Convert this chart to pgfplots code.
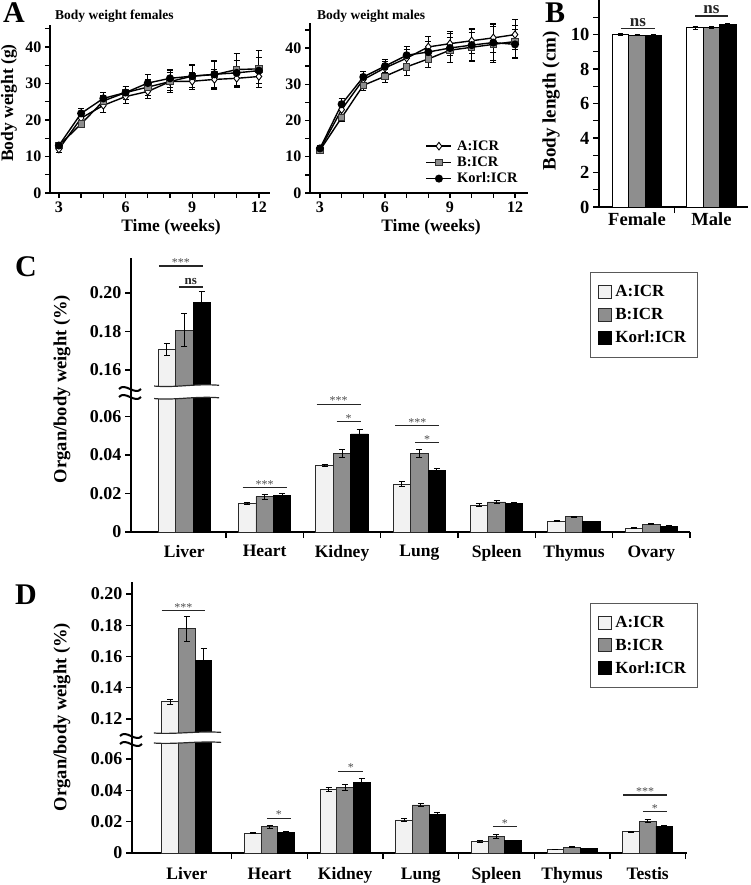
\documentclass[border=0pt]{standalone}
\usepackage{pgfplots}
\usepackage{pgfplotstable}
\pgfplotsset{compat=1.18}
\usepackage{fontspec}
\setmainfont{Liberation Serif}
\definecolor{barwhite}{HTML}{F2F2F2}
\definecolor{bargray}{HTML}{8E8E8E}
\definecolor{edge}{HTML}{2A2A2A}
\newcommand{\fsz}[1]{\fontsize{#1}{#1}\selectfont}
\newcommand{\brk}[2]{\thisrow{#1}>0.1?\thisrow{#1}-#2:\thisrow{#1}}

\pgfplotsset{
  panel/.style={scale only axis, clip=false,
    axis x line*=bottom, axis y line*=left,
    axis line style={-, line width=1.5pt, black},
    tick align=outside, major tick length=5pt, minor tick length=5pt,
    tick style={line width=1.3pt, black},
    /pgf/number format/assume math mode=true,
    scaled y ticks=false},
  errs/.style={error bars/y dir=both, error bars/y explicit,
    error bars/error bar style={line width=0.9pt, black},
    error bars/error mark options={rotate=90, mark size=#1, line width=0.9pt, black}},
  errs/.default=3pt,
  awhite/.style={black, line width=1.4pt, mark=diamond*, mark size=3.8pt,
    mark options={fill=white, draw=black, line width=0.9pt}},
  bgray/.style={black, line width=1.4pt, mark=square*, mark size=3.2pt,
    mark options={fill=bargray, draw=black!80, line width=0.8pt}},
  korl/.style={black, line width=1.4pt, mark=*, mark size=3.3pt,
    mark options={fill=black, draw=black}},
  lineleg/.style={legend image code/.code={\draw[##1, mark=none] (0pt,0pt) -- (25pt,0pt);
    \path[##1] plot coordinates {(12.5pt,0pt)};}},
  sqleg/.style={legend image code/.code={\draw[##1, line width=0.9pt] (0pt,-6.5pt) rectangle (13pt,6.5pt);}},
  wbar/.style={fill=barwhite, draw=edge, line width=0.9pt, sqleg},
  gbar/.style={fill=bargray, draw=edge, line width=0.9pt, sqleg},
  kbar/.style={fill=black, draw=black, line width=0.9pt, sqleg},
}

\newcommand{\sig}[4]{\draw[line width=1.3pt, black!85] (axis cs:#1,#3) -- (axis cs:#2,#3)
  node[midway, above, inner sep=0pt, yshift=-1pt, font=\fsz{12}, text=black!70] {#4};}
\newcommand{\signs}[4]{\draw[line width=1.3pt, black!85] (axis cs:#1,#3) -- (axis cs:#2,#3)
  node[midway, above, inner sep=1.5pt, font=\bfseries\fsz{#4}] {ns};}

% Body weight, females (weeks, mean, sd)
\pgfplotstableread{
w a ea b eb k ek
3 12.0 0.8 13.0 0.8 13.0 0.8
4 20.5 1.5 18.9 1.0 21.8 1.3
5 24.0 2.0 25.2 1.5 25.9 1.5
6 26.4 1.8 27.5 1.8 27.5 1.8
7 27.8 2.0 29.0 2.2 30.1 2.3
8 30.5 2.5 30.5 3.0 31.4 2.5
9 30.6 2.3 32.0 3.2 32.0 3.0
10 31.1 2.8 32.4 3.8 32.5 3.5
11 31.4 2.5 33.8 4.5 32.9 3.5
12 31.9 3.0 34.0 5.0 33.5 3.5
}\femT
% Body weight, males
\pgfplotstableread{
w a ea b eb k ek
3 12.0 0.8 11.8 0.8 12.3 0.8
4 23.0 1.5 20.8 1.0 24.5 1.5
5 31.3 1.5 29.7 1.5 32.0 1.5
6 34.5 1.8 32.2 1.8 35.0 1.8
7 37.2 2.3 34.8 2.3 38.0 2.5
8 40.3 3.0 37.0 2.5 38.9 3.0
9 41.2 3.3 39.4 3.5 40.0 4.0
10 42.0 3.5 40.2 4.0 40.8 4.2
11 42.8 4.0 41.0 5.0 41.5 5.0
12 43.7 4.2 41.8 4.5 41.0 4.0
}\malT
% Body length
\pgfplotstableread{
x a ea b eb k ek
0 10.02 0.05 9.96 0.04 9.96 0.06
1 10.40 0.08 10.40 0.06 10.58 0.06
}\lenT
% Organ/body weight, females
\pgfplotstableread{
x a ea b eb k ek
-0.04 0.1707 0.0030 0.1806 0.0085 0.1950 0.0056
1 0.0149 0.0005 0.0184 0.0013 0.0192 0.0008
2 0.0346 0.0007 0.0409 0.0022 0.0509 0.0025
3 0.0248 0.0012 0.0409 0.0020 0.0319 0.0012
4 0.0140 0.0007 0.0156 0.0010 0.0149 0.0003
5 0.0057 0.0003 0.0079 0.0003 0.0054 0.0002
6 0.0019 0.0003 0.0040 0.0003 0.0031 0.0002
}\orgF
% Organ/body weight, males
\pgfplotstableread{
x a ea b eb k ek
-0.093 0.1311 0.0015 0.1776 0.0077 0.1574 0.0075
1 0.0126 0.0003 0.0168 0.0008 0.0132 0.0006
2 0.0407 0.0015 0.0417 0.0018 0.0452 0.0025
3 0.0211 0.0007 0.0307 0.0012 0.0249 0.0008
4 0.0074 0.0004 0.0106 0.0010 0.0079 0.0003
5 0.0023 0.0002 0.0036 0.0003 0.0030 0.0002
6 0.0136 0.0004 0.0204 0.0008 0.0172 0.0006
}\orgM

\begin{document}
\begin{tikzpicture}
\useasboundingbox (0pt,0pt) rectangle (750pt,-885pt);

% ---------- A: females
\begin{axis}[panel, at={(50pt,-193pt)}, anchor=south west, width=220pt, height=168pt,
  xmin=2.6, xmax=12.5, ymin=0, ymax=46,
  xtick={3,6,9,12}, minor xtick={4,5,7,8,10,11},
  ytick={0,10,20,30,40}, minor ytick={5,15,25,35,45},
  tick label style={font=\bfseries\fsz{16}}]
\addplot[awhite, errs] table[x=w, y=a, y error=ea] {\femT};
\addplot[bgray, errs] table[x=w, y=b, y error=eb] {\femT};
\addplot[korl, errs] table[x=w, y=k, y error=ek] {\femT};
\end{axis}

% ---------- A: males
\begin{axis}[panel, at={(310pt,-193pt)}, anchor=south west, width=218pt, height=170pt,
  xmin=2.54, xmax=12.6, ymin=0, ymax=46.9,
  xtick={3,6,9,12}, minor xtick={4,5,7,8,10,11},
  ytick={0,10,20,30,40}, minor ytick={5,15,25,35,45},
  tick label style={font=\bfseries\fsz{16}},
  legend style={at={(0.53,0.318)}, anchor=north west, draw=none, fill=none,
    font=\bfseries\fsz{14.5}, inner sep=0pt, row sep=2pt,
    nodes={inner ysep=1.5pt, inner xsep=2pt},
    /tikz/every odd column/.append style={column sep=3pt}},
  legend cell align=left]
\addplot[awhite, errs, lineleg] table[x=w, y=a, y error=ea] {\malT};
\addlegendentry{A:ICR}
\addplot[bgray, errs, lineleg] table[x=w, y=b, y error=eb] {\malT};
\addlegendentry{B:ICR}
\addplot[korl, errs, lineleg] table[x=w, y=k, y error=ek] {\malT};
\addlegendentry{Korl:ICR}
\end{axis}

% ---------- B: body length
\begin{axis}[panel, at={(599pt,-207pt)}, anchor=south west, width=149pt, height=207pt,
  xmin=-0.51, xmax=1.49, ymin=0, ymax=12,
  ybar=0pt, bar width=0.22, major tick length=6pt, minor tick length=6pt,
  xtick={0,1}, xticklabels={Female,Male}, major x tick style={draw=none}, minor xtick={0.5},
  ytick={0,2,4,6,8,10}, minor ytick={1,3,5,7,9,11},
  tick label style={font=\bfseries\fsz{18.5}},
  xticklabel style={yshift=4pt}]
\addplot[fill=white, draw=black, line width=1pt, errs=2.5pt] table[x=x, y=a, y error=ea] {\lenT};
\addplot[fill=bargray, draw=black, line width=1pt, errs=2.5pt] table[x=x, y=b, y error=eb] {\lenT};
\addplot[fill=black, draw=black, line width=1pt, errs=2.5pt] table[x=x, y=k, y error=ek] {\lenT};
\signs{-0.215}{0.24}{10.35}{17}
\signs{0.78}{1.22}{11.07}{17}
\end{axis}

% ---------- C: organ weights, females (upper segment shifted down by 0.0758)
\begin{axis}[panel, at={(131pt,-532pt)}, anchor=south west, width=559pt, height=274pt,
  xmin=-0.729, xmax=6.5, ymin=0, ymax=0.1423,
  ybar=0pt, bar width=0.226, major tick length=6pt, minor tick length=6pt,
  xtick={-0.04,1,2,3,4,5,6}, xticklabels={Liver,Heart,Kidney,Lung,Spleen,Thymus,Ovary},
  major x tick style={draw=none}, minor xtick={0.5,1.5,2.5,3.5,4.5,5.5,6.5},
  ytick={0,0.02,0.04,0.06,0.0842,0.1042,0.1242},
  yticklabels={0,0.02,0.04,0.06,0.16,0.18,0.20},
  tick label style={font=\bfseries\fsz{18}},
  xticklabel style={font=\bfseries\fsz{17.5}, yshift=-4pt},
  legend style={at={(0.821,0.949)}, anchor=north west, draw=black!65, line width=1pt,
    font=\bfseries\fsz{17}, inner xsep=8pt, inner ysep=11pt, row sep=6pt,
    nodes={inner ysep=2pt, inner xsep=3pt}},
  legend cell align=left]
\addplot[wbar, errs] table[x=x, y expr={\brk{a}{0.0758}}, y error=ea] {\orgF};
\addlegendentry{A:ICR}
\addplot[gbar, errs] table[x=x, y expr={\brk{b}{0.0758}}, y error=eb] {\orgF};
\addlegendentry{B:ICR}
\addplot[kbar, errs] table[x=x, y expr={\brk{k}{0.0758}}, y error=ek] {\orgF};
\addlegendentry{Korl:ICR}
% axis break band
\fill[white] (axis cs:-0.43,0.0758) .. controls (axis cs:-0.15,0.0748) and (axis cs:0.1,0.0772) .. (axis cs:0.41,0.0762)
  -- (axis cs:0.41,0.0697) .. controls (axis cs:0.1,0.0707) and (axis cs:-0.15,0.0683) .. (axis cs:-0.43,0.0693) -- cycle;
\draw[line width=1.2pt, edge] (axis cs:-0.43,0.0758) .. controls (axis cs:-0.15,0.0748) and (axis cs:0.1,0.0772) .. (axis cs:0.41,0.0762);
\draw[line width=1.2pt, edge] (axis cs:-0.43,0.0693) .. controls (axis cs:-0.15,0.0683) and (axis cs:0.1,0.0707) .. (axis cs:0.41,0.0697);
\sig{-0.368}{0.2}{0.1382}{***}
\signs{-0.11}{0.2}{0.1273}{13}
\sig{0.716}{1.284}{0.0230}{***}
\sig{1.671}{2.239}{0.0663}{***}
\sig{1.929}{2.239}{0.0573}{*}
\sig{2.690}{3.258}{0.0552}{***}
\sig{2.944}{3.258}{0.0464}{*}
\end{axis}

% ---------- D: organ weights, males (upper segment shifted down by 0.0344)
\begin{axis}[panel, at={(132pt,-853pt)}, anchor=south west, width=555pt, height=271pt,
  xmin=-0.819, xmax=6.52, ymin=0, ymax=0.1732,
  ybar=0pt, bar width=0.22, major tick length=6pt, minor tick length=6pt,
  xtick={-0.093,1,2,3,4,5,6}, xticklabels={Liver,Heart,Kidney,Lung,Spleen,Thymus,Testis},
  major x tick style={draw=none}, minor xtick={0.5,1.5,2.5,3.5,4.5,5.5,6.5},
  ytick={0,0.02,0.04,0.06,0.0856,0.1056,0.1256,0.1456,0.1656},
  yticklabels={0,0.02,0.04,0.06,0.12,0.14,0.16,0.18,0.20},
  tick label style={font=\bfseries\fsz{18}},
  xticklabel style={font=\bfseries\fsz{17.5}, yshift=-5pt},
  legend style={at={(0.825,0.924)}, anchor=north west, draw=black!65, line width=1pt,
    font=\bfseries\fsz{17}, inner xsep=8pt, inner ysep=11pt, row sep=6pt,
    nodes={inner ysep=2pt, inner xsep=3pt}},
  legend cell align=left]
\addplot[wbar, errs] table[x=x, y expr={\brk{a}{0.0344}}, y error=ea] {\orgM};
\addlegendentry{A:ICR}
\addplot[gbar, errs] table[x=x, y expr={\brk{b}{0.0344}}, y error=eb] {\orgM};
\addlegendentry{B:ICR}
\addplot[kbar, errs] table[x=x, y expr={\brk{k}{0.0344}}, y error=ek] {\orgM};
\addlegendentry{Korl:ICR}
\fill[white] (axis cs:-0.53,0.0767) .. controls (axis cs:-0.25,0.0757) and (axis cs:0.05,0.0781) .. (axis cs:0.36,0.0771)
  -- (axis cs:0.36,0.0707) .. controls (axis cs:0.05,0.0717) and (axis cs:-0.25,0.0693) .. (axis cs:-0.53,0.0703) -- cycle;
\draw[line width=1.2pt, edge] (axis cs:-0.53,0.0767) .. controls (axis cs:-0.25,0.0757) and (axis cs:0.05,0.0781) .. (axis cs:0.36,0.0771);
\draw[line width=1.2pt, edge] (axis cs:-0.53,0.0703) .. controls (axis cs:-0.25,0.0693) and (axis cs:0.05,0.0717) .. (axis cs:0.36,0.0707);
\sig{-0.426}{0.147}{0.1548}{***}
\sig{0.963}{1.284}{0.0222}{*}
\sig{1.910}{2.241}{0.0520}{*}
\sig{3.952}{4.270}{0.0168}{*}
\sig{5.680}{6.254}{0.0371}{***}
\sig{5.937}{6.254}{0.0264}{*}
\end{axis}

% ---------- break symbols on the y axes
\draw[line width=2pt] (119pt,-389pt) .. controls (125pt,-382pt) and (135pt,-396pt) .. (141pt,-389pt);
\draw[line width=2pt] (119pt,-397pt) .. controls (125pt,-390pt) and (135pt,-404pt) .. (141pt,-397pt);
\draw[line width=2pt] (120pt,-736pt) .. controls (126pt,-729pt) and (136pt,-743pt) .. (142pt,-736pt);
\draw[line width=2pt] (120pt,-744pt) .. controls (126pt,-737pt) and (136pt,-751pt) .. (142pt,-744pt);

% ---------- titles, axis labels, panel letters
\node[font=\bfseries\fsz{30}] at (14pt,-13pt) {A};
\node[font=\bfseries\fsz{13.5}, anchor=west, inner sep=0pt] at (55pt,-16pt) {Body weight females};
\node[font=\bfseries\fsz{17.5}, rotate=90] at (9pt,-103pt) {Body weight (g)};
\node[font=\bfseries\fsz{17.5}] at (171pt,-227pt) {Time (weeks)};
\node[font=\bfseries\fsz{13.5}, anchor=west, inner sep=0pt] at (317pt,-16pt) {Body weight males};
\node[font=\bfseries\fsz{17.5}] at (431pt,-227pt) {Time (weeks)};
\node[font=\bfseries\fsz{30}] at (555pt,-13pt) {B};
\node[font=\bfseries\fsz{19}, rotate=90] at (551pt,-101pt) {Body length (cm)};
\node[font=\bfseries\fsz{30}] at (26pt,-267pt) {C};
\node[font=\bfseries\fsz{18.5}, rotate=90] at (62pt,-389pt) {Organ/body weight (\%)};
\node[font=\bfseries\fsz{30}] at (26pt,-595pt) {D};
\node[font=\bfseries\fsz{18.5}, rotate=90] at (62pt,-717pt) {Organ/body weight (\%)};
\end{tikzpicture}
\end{document}
